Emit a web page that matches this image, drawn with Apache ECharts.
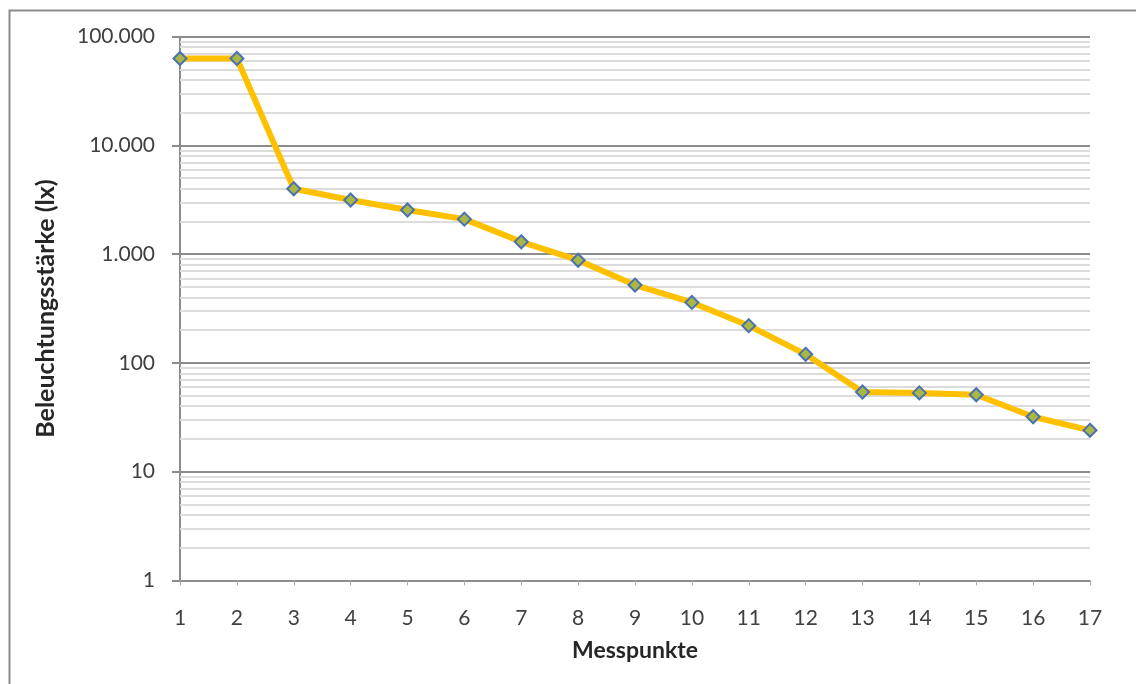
<!DOCTYPE html>
<html>
<head>
<meta charset="utf-8">
<script src="https://cdn.jsdelivr.net/npm/echarts@6/dist/echarts.min.js"></script>
<style>
html,body{margin:0;padding:0;background:#fff;}
#chart{width:1136px;height:684px;}
</style>
</head>
<body>
<div id="chart"></div>
<script>
const categories = ['1','2','3','4','5','6','7','8','9','10','11','12','13','14','15','16','17'];
const illuminance = [63000, 63000, 4000, 3150, 2550, 2100, 1300, 880, 520, 360, 220, 120, 54, 53, 51, 32, 24];
const yTickValues = [1, 10, 100, 1000, 10000, 100000];
const xTitle = 'Messpunkte';
const yTitle = 'Beleuchtungsstärke (lx)';

function deFormat(v){
  return String(Math.round(v)).replace(/\B(?=(\d{3})+(?!\d))/g, '.');
}

// minor log grid lines (2..9 per decade)
const minorLines = [];
for (let d = 1; d < 100000; d *= 10) {
  for (let m = 2; m <= 9; m++) minorLines.push({ yAxis: m * d });
}

const chart = echarts.init(document.getElementById('chart'));
chart.setOption({
  backgroundColor: '#ffffff',
  animation: false,
  textStyle: { fontFamily: 'Lato, "Open Sans", sans-serif' },
  graphic: [{
    type: 'rect',
    left: 7, top: 8,
    shape: { width: 1300, height: 900 },
    style: { fill: 'none', stroke: '#8c8c8c', lineWidth: 2 },
    silent: true
  }],
  grid: { left: 180, right: 46, top: 36.7, bottom: 103.6 },
  xAxis: {
    type: 'category',
    data: categories,
    boundaryGap: false,
    name: xTitle,
    nameLocation: 'middle',
    nameGap: 59,
    nameTextStyle: { fontSize: 23, fontWeight: 'bold', color: '#262626', fontFamily: 'Lato, sans-serif' },
    axisLine: { lineStyle: { color: '#8c8c8c', width: 2 } },
    axisTick: { show: true, alignWithLabel: true, length: 5, lineStyle: { color: '#aaaaaa', width: 1 } },
    axisLabel: { fontSize: 21, color: '#404040', margin: 27 },
    splitLine: { show: false }
  },
  yAxis: {
    type: 'log',
    logBase: 10,
    min: 1,
    max: 100000,
    name: yTitle,
    nameLocation: 'middle',
    nameGap: 122,
    nameTextStyle: { fontSize: 25, fontWeight: 'bold', color: '#262626', fontFamily: 'Lato, sans-serif' },
    axisLine: { show: true, lineStyle: { color: '#8c8c8c', width: 2 } },
    axisTick: { show: true, inside: false, length: 8, lineStyle: { color: '#8c8c8c', width: 2 } },
    axisLabel: {
      fontSize: 21, color: '#404040', margin: 25,
      formatter: function(v){ return yTickValues.indexOf(Math.round(v)) >= 0 ? deFormat(v) : ''; }
    },
    splitLine: { show: true, lineStyle: { color: '#8c8c8c', width: 2 } }
  },
  series: [{
    type: 'line',
    data: illuminance,
    symbol: 'diamond',
    symbolSize: 13,
    lineStyle: { color: '#FFC000', width: 6 },
    itemStyle: { color: '#a9b845', borderColor: '#4a72b0', borderWidth: 2 },
    z: 5,
    markLine: {
      silent: true,
      symbol: ['none', 'none'],
      label: { show: false },
      lineStyle: { color: '#dcdcdc', width: 2, type: 'solid' },
      data: minorLines,
      z: 1,
      animation: false
    }
  }]
});
</script>
</body>
</html>
